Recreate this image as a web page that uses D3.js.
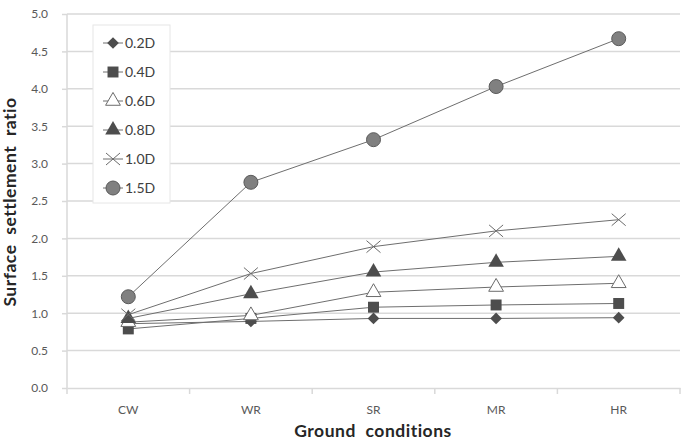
<!DOCTYPE html>
<html>
<head>
<meta charset="utf-8">
<script src="https://d3js.org/d3.v7.min.js"></script>
<style>
  body { margin: 0; background: #fff; }
  svg text { font-family: Lato, "Open Sans", sans-serif; }
</style>
</head>
<body>
<div id="chart"></div>
<script>
"use strict"

var categories = ["CW", "WR", "SR", "MR", "HR"];
var seriesNames = ["0.2D", "0.4D", "0.6D", "0.8D", "1.0D", "1.5D"];
var s02 = [0.86, 0.89, 0.93, 0.93, 0.94];
var s04 = [0.79, 0.93, 1.08, 1.11, 1.13];
var s06 = [0.88, 0.97, 1.28, 1.35, 1.40];
var s08 = [0.93, 1.26, 1.55, 1.68, 1.76];
var s10 = [0.98, 1.53, 1.89, 2.10, 2.25];
var s15 = [1.22, 2.75, 3.32, 4.03, 4.67];
var yTicks = [0, 0.5, 1, 1.5, 2, 2.5, 3, 3.5, 4, 4.5, 5];

var allSeries = [s02, s04, s06, s08, s10, s15];

var largura = 683, altura = 442;
var margin = {top: 14, right: 3, bottom: 54, left: 67};
var w = largura - margin.left - margin.right,
    h = altura - margin.top - margin.bottom;

var svg = d3.select("#chart").append("svg")
  .attr("width", largura).attr("height", altura);
var g = svg.append("g").attr("transform", "translate(" + margin.left + "," + margin.top + ")");

var x = d3.scaleBand().domain(categories).range([0, w]);
var y = d3.scaleLinear().domain([0, 5]).range([h, 0]);

// grid
g.selectAll(".grid").data(yTicks.slice(1)).enter().append("line")
  .attr("x1", 0).attr("x2", w)
  .attr("y1", d => y(d)).attr("y2", d => y(d))
  .attr("stroke", "#d9d9d9").attr("stroke-width", 1.5);

// y axis
var yAxis = g.append("g").call(d3.axisLeft(y).tickValues(yTicks).tickFormat(d3.format(".1f")).tickSize(5).tickPadding(14));
yAxis.select(".domain").attr("stroke", "#d9d9d9").attr("stroke-width", 1.5).attr("d", "M0," + h + "V0");
yAxis.selectAll(".tick line").attr("stroke", "#d9d9d9").attr("stroke-width", 1.5);
yAxis.selectAll(".tick text").attr("fill", "#595959").style("font-size", "12px");

// x axis
var xAxis = g.append("g").attr("transform", "translate(0," + h + ")")
  .call(d3.axisBottom(x).tickSize(0).tickPadding(17));
xAxis.select(".domain").attr("stroke", "#d9d9d9").attr("stroke-width", 1.5);
xAxis.selectAll(".tick text").attr("fill", "#595959").style("font-size", "12px");
xAxis.selectAll(".sep").data(d3.range(categories.length + 1)).enter().append("line")
  .attr("x1", d => d * x.step()).attr("x2", d => d * x.step())
  .attr("y1", 0).attr("y2", 6)
  .attr("stroke", "#d9d9d9").attr("stroke-width", 1.5);

// axis titles
svg.append("text")
  .attr("transform", "translate(16,202) rotate(-90)")
  .attr("text-anchor", "middle")
  .style("font-size", "17.5px").style("font-weight", "bold")
  .style("letter-spacing", "0.5px").style("word-spacing", "5px")
  .attr("fill", "#262626")
  .text("Surface settlement ratio");

svg.append("text")
  .attr("x", 373).attr("y", 437)
  .attr("text-anchor", "middle")
  .style("font-size", "17.5px").style("font-weight", "bold")
  .style("letter-spacing", "0.5px").style("word-spacing", "5px")
  .attr("fill", "#262626")
  .text("Ground conditions");

// markers
var dark = "#4d4d4d";
function marker(sel, i) {
  if (i === 0) sel.append("path").attr("d", d3.symbol().type(d3.symbolSquare).size(68)()).attr("transform", "rotate(45)").attr("fill", dark);
  else if (i === 1) sel.append("path").attr("d", d3.symbol().type(d3.symbolSquare).size(120)()).attr("fill", dark);
  else if (i === 2) sel.append("path").attr("d", d3.symbol().type(d3.symbolTriangle).size(95)()).attr("fill", "#fff").attr("stroke", "#6b6b6b").attr("stroke-width", 1);
  else if (i === 3) sel.append("path").attr("d", d3.symbol().type(d3.symbolTriangle).size(105)()).attr("fill", dark);
  else if (i === 4) sel.append("path").attr("d", "M-7,-6L7,6M-7,6L7,-6").attr("fill", "none").attr("stroke", "#6b6b6b").attr("stroke-width", 1);
  else sel.append("circle").attr("r", 7).attr("fill", "#808080").attr("stroke", "#5a5a5a").attr("stroke-width", 1);
}

var line = d3.line().x((d, i) => x(categories[i]) + x.bandwidth() / 2).y(d => y(d));

allSeries.forEach(function(vals, i) {
  g.append("path").datum(vals).attr("d", line)
    .attr("fill", "none").attr("stroke", "#6e6e6e").attr("stroke-width", 1);
});
allSeries.forEach(function(vals, i) {
  vals.forEach(function(v, j) {
    var m = g.append("g").attr("transform", "translate(" + (x(categories[j]) + x.bandwidth() / 2) + "," + y(v) + ")");
    marker(m, i);
  });
});

// legend
var leg = svg.append("g").attr("transform", "translate(93,25)");
leg.append("rect").attr("width", 77).attr("height", 178).attr("fill", "#fff").attr("stroke", "#e6e6e6");
seriesNames.forEach(function(name, i) {
  var r = leg.append("g").attr("transform", "translate(0," + (18 + i * 29) + ")");
  r.append("line").attr("x1", 10).attr("x2", 30).attr("stroke", "#6e6e6e");
  var m = r.append("g").attr("transform", "translate(20,0)");
  marker(m, i);
  r.append("text").attr("x", 32).attr("y", 5).style("font-size", "14px").attr("fill", "#404040").text(name);
});
</script>
</body>
</html>
